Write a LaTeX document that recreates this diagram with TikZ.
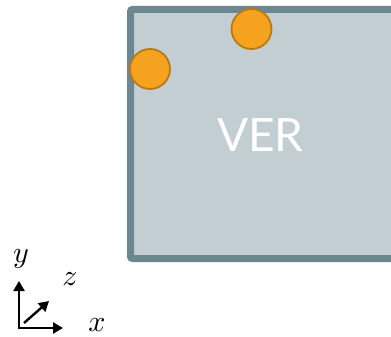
\documentclass[tikz,border=0pt]{standalone}
\usepackage{fontspec}
\setsansfont{Lato}
\usetikzlibrary{arrows.meta}
\definecolor{boxfill}{HTML}{C3CED3}
\definecolor{boxedge}{HTML}{6C8790}
\definecolor{dotfill}{HTML}{F5A21F}
\definecolor{dotedge}{HTML}{B97A12}
\tikzset{
  dot/.style={circle, fill=dotfill, draw=dotedge, line width=1.8pt, minimum size=40pt, inner sep=0pt},
  axis/.style={line width=2.4pt, -{Triangle[length=10pt,width=11pt]}},
  axlabel/.style={inner sep=0pt}
}
\newcommand{\axtxt}[1]{\scalebox{3}{$#1$}}
\begin{document}
\begin{tikzpicture}[x=1pt,y=-1pt]
\useasboundingbox (0,0) rectangle (391,337);
\clip (0,0) rectangle (391,337);
% box
\draw[fill=boxfill, draw=boxedge, line width=7pt, rounded corners=2pt] (130.5,9.5) rectangle (400,258.5);
\node[text=white, font=\sffamily\fontsize{46pt}{50pt}\selectfont, inner sep=0pt] (ver) at (260.5,135.5) {VER};
% dots
\node[dot] (d1) at (251.5,29) {};
\node[dot] (d2) at (150,69) {};
% axes
\coordinate (oy) at (19,281);
\coordinate (ox) at (63,328);
\coordinate (oz0) at (24,323);
\coordinate (oz) at (49,301);
\draw[axis] (19,329.2) -- (oy);
\draw[axis] (17.8,328) -- (ox);
\draw[axis] (oz0) -- (oz);
\node[axlabel] (ly) at (21,259) {\axtxt{y}};
\node[axlabel] (lz) at (70,279) {\axtxt{z}};
\node[axlabel] (lx) at (97,325) {\axtxt{x}};
\end{tikzpicture}
\end{document}
